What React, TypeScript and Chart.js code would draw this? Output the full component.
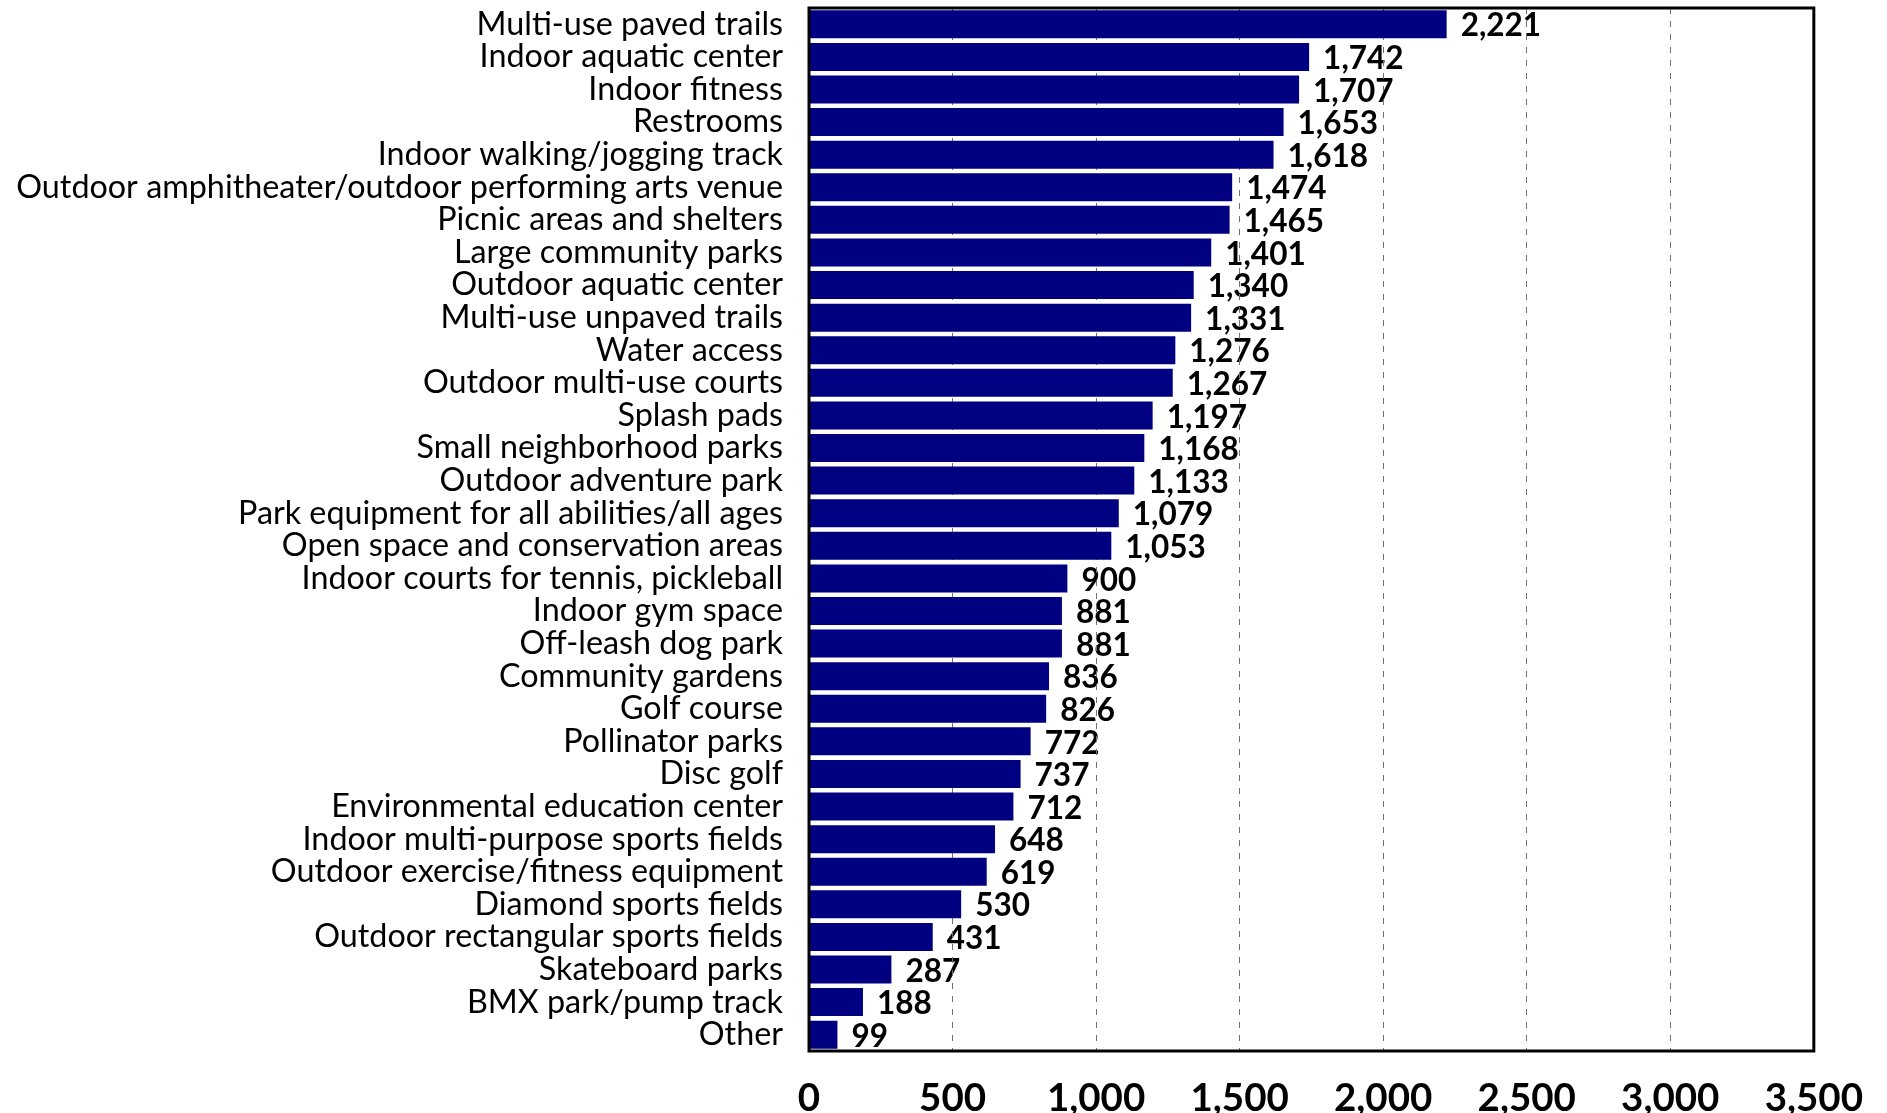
import React, { useEffect, useRef } from "react";
import { Chart, registerables } from "chart.js";

Chart.register(...registerables);

const categories: string[] = [
  "Multi-use paved trails",
  "Indoor aquatic center",
  "Indoor fitness",
  "Restrooms",
  "Indoor walking/jogging track",
  "Outdoor amphitheater/outdoor performing arts venue",
  "Picnic areas and shelters",
  "Large community parks",
  "Outdoor aquatic center",
  "Multi-use unpaved trails",
  "Water access",
  "Outdoor multi-use courts",
  "Splash pads",
  "Small neighborhood parks",
  "Outdoor adventure park",
  "Park equipment for all abilities/all ages",
  "Open space and conservation areas",
  "Indoor courts for tennis, pickleball",
  "Indoor gym space",
  "Off-leash dog park",
  "Community gardens",
  "Golf course",
  "Pollinator parks",
  "Disc golf",
  "Environmental education center",
  "Indoor multi-purpose sports fields",
  "Outdoor exercise/fitness equipment",
  "Diamond sports fields",
  "Outdoor rectangular sports fields",
  "Skateboard parks",
  "BMX park/pump track",
  "Other",
];

const values: number[] = [
  2221, 1742, 1707, 1653, 1618, 1474, 1465, 1401, 1340, 1331, 1276, 1267,
  1197, 1168, 1133, 1079, 1053, 900, 881, 881, 836, 826, 772, 737, 712, 648,
  619, 530, 431, 287, 188, 99,
];

const xTickValues: number[] = [0, 500, 1000, 1500, 2000, 2500, 3000, 3500];

const FONT = "Lato, 'Open Sans', sans-serif";
const BAR_COLOR = "#000080";

const fmt = (v: number) => v.toLocaleString("en-US");

const valueLabels = {
  id: "valueLabels",
  beforeDraw(chart: any) {
    const ctx = chart.ctx;
    const meta = chart.getDatasetMeta(0);
    ctx.save();
    ctx.font = `bold 31.5px ${FONT}`;
    ctx.fillStyle = "#000000";
    ctx.textAlign = "left";
    ctx.textBaseline = "middle";
    meta.data.forEach((el: any, i: number) => {
      ctx.fillText(fmt(values[i]), el.x + 14, el.y + 2);
    });
    ctx.restore();
  },
};

const frame = {
  id: "frame",
  afterDraw(chart: any) {
    const { ctx, chartArea } = chart;
    ctx.save();
    ctx.strokeStyle = "#000000";
    ctx.lineWidth = 3;
    ctx.strokeRect(
      chartArea.left,
      chartArea.top,
      chartArea.right - chartArea.left,
      chartArea.bottom - chartArea.top
    );
    ctx.restore();
  },
};

export default function App() {
  const canvasRef = useRef<HTMLCanvasElement | null>(null);

  useEffect(() => {
    if (!canvasRef.current) return;
    const chart = new Chart(canvasRef.current, {
      type: "bar",
      data: {
        labels: categories,
        datasets: [
          {
            data: values,
            backgroundColor: BAR_COLOR,
            borderWidth: 0,
            categoryPercentage: 0.86,
            barPercentage: 1,
          },
        ],
      },
      options: {
        indexAxis: "y",
        animation: false,
        responsive: true,
        maintainAspectRatio: false,
        layout: { padding: { top: 8, right: 72, left: 0, bottom: 0 } },
        plugins: {
          legend: { display: false },
          tooltip: { enabled: false },
        },
        scales: {
          x: {
            type: "linear",
            min: 0,
            max: 3500,
            afterBuildTicks: (scale: any) => {
              scale.ticks = xTickValues.map((v) => ({ value: v }));
            },
            afterFit: (scale: any) => {
              scale.height = 62;
            },
            grid: {
              drawTicks: false,
              lineWidth: 1,
              color: (c: any) =>
                c.tick && (c.tick.value === 0 || c.tick.value === 3500)
                  ? "rgba(0,0,0,0)"
                  : "#707070",
            },
            border: { display: false, dash: [6, 7] },
            ticks: {
              padding: 24,
              color: "#000000",
              font: { family: FONT, size: 38.5, weight: "bold" },
              callback: (v: any) => fmt(Number(v)),
              maxRotation: 0,
              autoSkip: false,
            },
          },
          y: {
            afterFit: (scale: any) => {
              scale.width = 809;
              scale.paddingTop = 0;
              scale.paddingBottom = 0;
            },
            border: { display: false },
            grid: { display: false, drawTicks: false },
            ticks: {
              padding: 26,
              color: "#000000",
              font: { family: FONT, size: 32.3 },
              autoSkip: false,
            },
          },
        },
      } as any,
      plugins: [valueLabels, frame],
    });
    return () => chart.destroy();
  }, []);

  return (
    <div
      style={{
        position: "fixed",
        left: 0,
        top: 0,
        width: 1887,
        height: 1113,
        background: "#ffffff",
      }}
    >
      <canvas ref={canvasRef} />
    </div>
  );
}
